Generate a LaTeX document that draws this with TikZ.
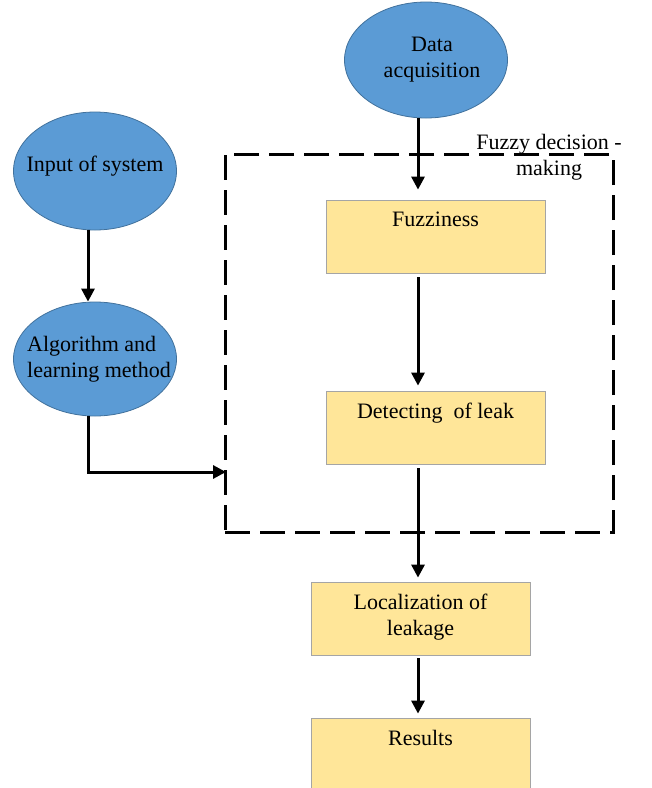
\documentclass[tikz,border=0pt]{standalone}
\usepackage{fontspec}
\setmainfont{Liberation Serif}
\usepackage{xcolor}
\definecolor{blobfill}{HTML}{5B9BD5}
\definecolor{blobedge}{HTML}{41719C}
\definecolor{boxfill}{HTML}{FFE699}
\definecolor{boxedge}{HTML}{A5A5A5}
\usetikzlibrary{arrows.meta, shapes.geometric}

\tikzset{
  blob/.style={ellipse, draw=blobedge, fill=blobfill, line width=0.8pt, minimum width=163pt, minimum height=116pt, inner sep=0pt},
  blobtext/.style={inner sep=0pt, align=center},
  procbox/.style={draw=boxedge, fill=boxfill, line width=0.8pt, minimum width=219pt, minimum height=73pt, inner sep=0pt},
  boxtext/.style={anchor=north, yshift=-12pt, inner sep=0pt, align=center},
  flow/.style={line width=3pt, -{Triangle[length=13pt, width=13pt]}},
  fuzzyframe/.style={draw, line width=3pt, dash pattern=on 25pt off 10pt, minimum width=388pt, minimum height=378pt}
}

\begin{document}
\begin{tikzpicture}[x=1pt, y=1pt, every node/.style={font=\fontsize{22}{26}\selectfont}]
  \path[use as bounding box, clip] (0,0) rectangle (652,-788);

  % Fuzzy decision-making frame
  \node[fuzzyframe] (fuzzy) at (419,-343) {};
  \node[blobtext] (fuzzylabel) at (549,-157) {Fuzzy decision -\\making};

  % Ellipses on the left and top
  \node[blob, label={[blobtext, xshift=6pt]center:Data\\acquisition}] (acq) at (426,-60) {};
  \node[blob, minimum height=118pt, label={[blobtext, yshift=5pt]center:Input of system}] (input) at (95,-171) {};
  \node[blob, minimum height=114pt, label={[blobtext, align=left, xshift=4pt]center:Algorithm and\\learning method}] (algo) at (95,-359) {};

  % Process boxes
  \node[procbox, label={[boxtext]north:Fuzziness}] (fuzz) at (435.5,-236.5) {};
  \node[procbox, label={[boxtext]north:Detecting\ \ of leak}] (detect) at (435.5,-427.5) {};
  \node[procbox, label={[boxtext]north:Localization of\\leakage}] (local) at (420.5,-618.5) {};
  \node[procbox, label={[boxtext]north:Results}] (results) at (420.5,-754.5) {};

  % Helper coordinates
  \coordinate (spine) at (418,0);
  \coordinate (leftspine) at (88,0);
  \coordinate (framein) at (226,-472);

  % Arrows
  \draw[flow, shorten >=10pt] (acq.south -| spine) -- (fuzz.north -| spine);
  \draw[flow, shorten <=4pt, shorten >=5pt] (fuzz.south -| spine) -- (detect.north -| spine);
  \draw[flow, shorten <=4pt, shorten >=4pt] (detect.south -| spine) -- (local.north -| spine);
  \draw[flow, shorten <=3pt, shorten >=4pt] (local.south -| spine) -- (results.north -| spine);
  \draw[flow] (input.south -| leftspine) -- (algo.north -| leftspine);
  \draw[flow] (algo.south -| leftspine) |- (framein);
\end{tikzpicture}
\end{document}
